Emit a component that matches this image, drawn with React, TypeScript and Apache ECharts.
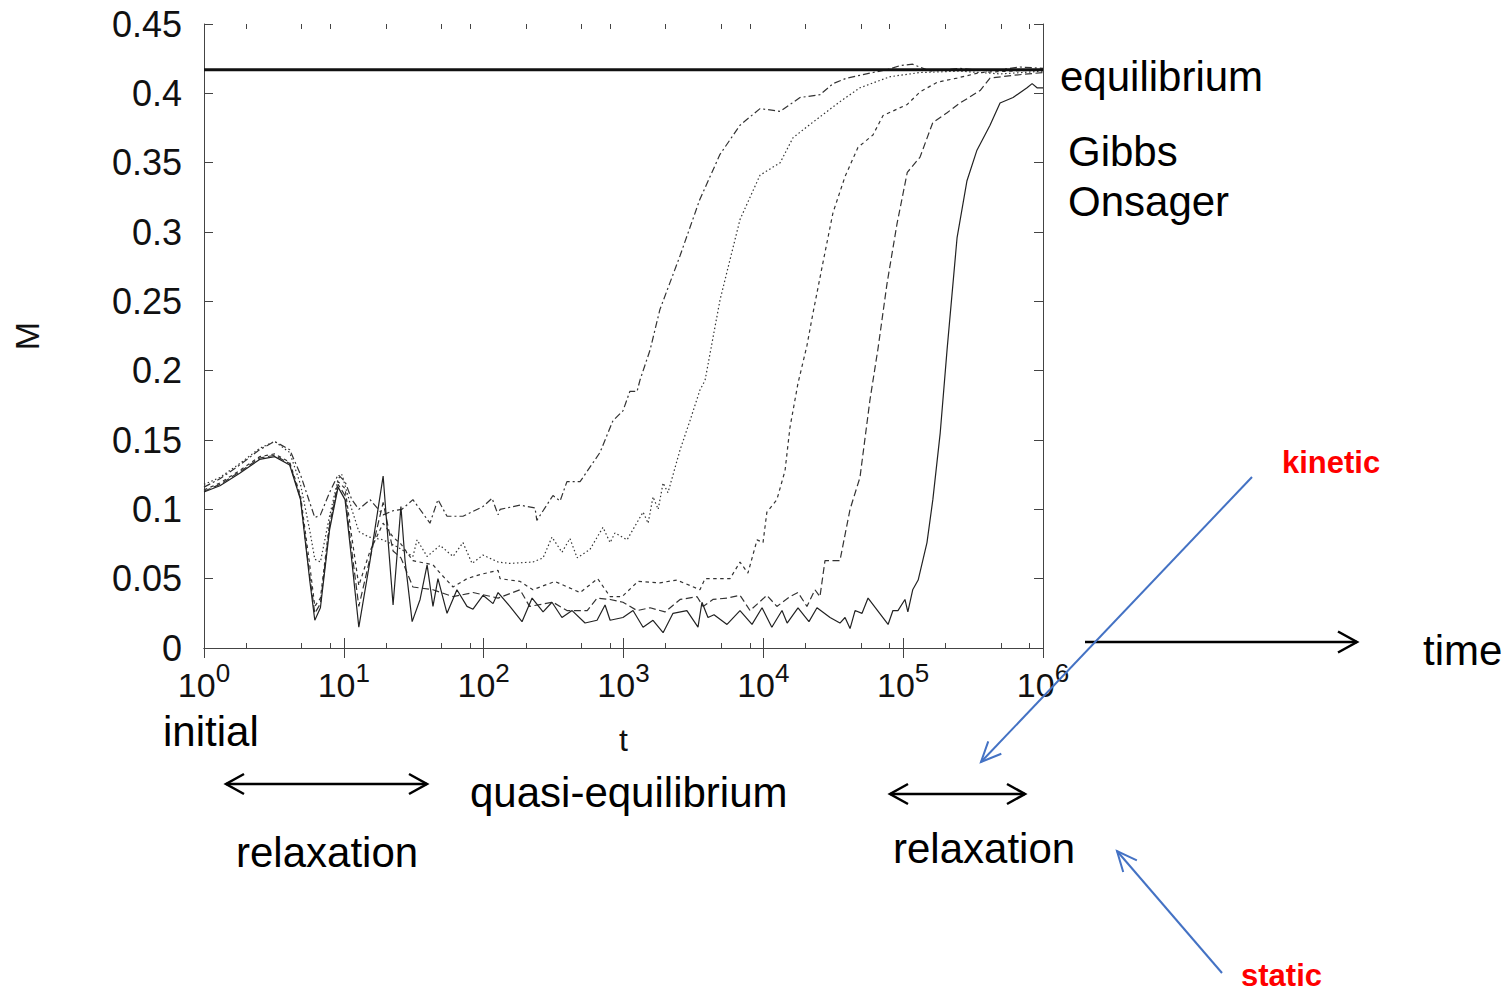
import React, { useEffect, useRef } from "react";
import * as echarts from "echarts";

// ---- data: t (log axis) and M for each curve ----
const tDashDot = [1, 1.3, 1.8, 2.5, 3.2, 4.1, 4.9, 5.7, 6.2, 6.8, 7.9, 9.1, 10.2, 11.4, 12.8, 15.4, 19.1, 22.5, 26, 31.2, 41.3, 47.1, 54.7, 71.1, 98.9, 114.8, 126.8, 131, 182, 233, 240, 313, 352, 394, 489, 513, 679, 841, 991, 1110, 1250, 1310, 1550, 1820, 2540, 3500, 4900, 6810, 9470, 13200, 18300, 25400, 31500, 39600, 60800, 76700, 95000, 117000, 156000, 255000, 418000, 685000, 1000000];
const mDashDot = [0.116, 0.122, 0.132, 0.143, 0.149, 0.143, 0.125, 0.105, 0.094, 0.096, 0.112, 0.125, 0.12, 0.107, 0.1, 0.107, 0.096, 0.099, 0.1, 0.107, 0.09, 0.107, 0.095, 0.095, 0.102, 0.108, 0.096, 0.1, 0.103, 0.101, 0.092, 0.11, 0.106, 0.12, 0.12, 0.123, 0.141, 0.164, 0.171, 0.185, 0.185, 0.193, 0.215, 0.244, 0.283, 0.323, 0.356, 0.377, 0.389, 0.387, 0.397, 0.399, 0.407, 0.411, 0.415, 0.417, 0.42, 0.421, 0.416, 0.418, 0.416, 0.419, 0.418];

const tDotted = [1, 1.3, 1.8, 2.5, 3.2, 4.1, 4.9, 5.7, 6.2, 6.8, 7.9, 9.1, 9.7, 11.4, 12.8, 15.1, 19.1, 24, 31.2, 33.4, 39.4, 48.8, 60.4, 71.1, 82.6, 98.9, 126.8, 154, 225, 266, 308, 363, 414, 466, 575, 713, 802, 869, 1060, 1380, 1500, 1626, 1770, 1919, 2080, 2540, 2990, 3520, 3830, 4900, 6810, 9470, 13200, 16300, 21200, 35300, 49100, 80600, 132000, 255000, 493000, 1000000];
const mDotted = [0.118, 0.123, 0.133, 0.144, 0.149, 0.141, 0.118, 0.085, 0.064, 0.062, 0.095, 0.122, 0.125, 0.1, 0.084, 0.08, 0.078, 0.073, 0.066, 0.078, 0.066, 0.074, 0.066, 0.076, 0.061, 0.067, 0.062, 0.061, 0.062, 0.065, 0.08, 0.069, 0.079, 0.065, 0.071, 0.087, 0.076, 0.083, 0.078, 0.098, 0.09, 0.109, 0.1, 0.119, 0.112, 0.143, 0.164, 0.186, 0.193, 0.251, 0.309, 0.341, 0.35, 0.368, 0.377, 0.394, 0.404, 0.412, 0.415, 0.416, 0.414, 0.416];

const tShortDash = [1, 1.3, 1.8, 2.5, 3.2, 4.1, 4.9, 5.7, 6.2, 6.8, 7.9, 9.1, 10.2, 11.4, 12.8, 15.4, 19.1, 22.5, 25.6, 31.2, 43.4, 48.8, 60.4, 76, 94.3, 126.8, 131, 182, 225, 323, 489, 654, 802, 976, 1270, 1820, 2410, 3520, 3830, 5780, 6810, 7760, 9020, 9950, 10600, 12500, 14300, 15500, 17700, 20500, 22600, 26700, 31500, 38400, 47500, 60800, 71800, 107000, 132000, 175000, 243000, 355000, 581000, 1000000];
const mShortDash = [0.114, 0.119, 0.128, 0.138, 0.14, 0.134, 0.11, 0.06, 0.03, 0.036, 0.09, 0.12, 0.115, 0.08, 0.045, 0.07, 0.09, 0.08, 0.075, 0.063, 0.06, 0.054, 0.044, 0.05, 0.053, 0.056, 0.05, 0.048, 0.042, 0.048, 0.04, 0.05, 0.037, 0.037, 0.048, 0.047, 0.049, 0.042, 0.05, 0.05, 0.062, 0.054, 0.078, 0.076, 0.098, 0.107, 0.128, 0.159, 0.191, 0.218, 0.241, 0.278, 0.314, 0.34, 0.361, 0.37, 0.384, 0.392, 0.401, 0.408, 0.411, 0.415, 0.416, 0.417];

const tLongDash = [1, 1.3, 1.8, 2.5, 3.2, 4.1, 4.9, 5.7, 6.2, 6.8, 7.9, 9.1, 10.2, 11.4, 12.8, 15.4, 19.1, 22.5, 25.6, 31.2, 43.4, 60.4, 83.9, 126.8, 182, 213, 313, 394, 550, 647, 802, 991, 1250, 1550, 1980, 2540, 3360, 3710, 4360, 5500, 6810, 8040, 10600, 12500, 15500, 17700, 20500, 23400, 25400, 27600, 35300, 41700, 49100, 57900, 66100, 76700, 90400, 107000, 132000, 163000, 206000, 255000, 355000, 418000, 611000, 1000000];
const mLongDash = [0.113, 0.118, 0.127, 0.137, 0.139, 0.133, 0.108, 0.052, 0.025, 0.032, 0.088, 0.118, 0.11, 0.07, 0.03, 0.065, 0.105, 0.07, 0.065, 0.044, 0.042, 0.037, 0.04, 0.036, 0.042, 0.03, 0.033, 0.027, 0.027, 0.036, 0.035, 0.033, 0.027, 0.029, 0.026, 0.035, 0.037, 0.03, 0.035, 0.036, 0.038, 0.027, 0.038, 0.03, 0.037, 0.04, 0.03, 0.042, 0.037, 0.063, 0.063, 0.1, 0.123, 0.179, 0.216, 0.263, 0.306, 0.343, 0.354, 0.379, 0.386, 0.393, 0.402, 0.411, 0.413, 0.415];

const tSolid = [1, 1.3, 1.8, 2.5, 3.2, 4.1, 4.9, 5.7, 6.2, 6.8, 7.9, 9.1, 10.2, 11.4, 12.8, 15.4, 19.1, 20.7, 22.5, 25.6, 27.4, 30.8, 35.1, 39.4, 43.4, 47.1, 54.7, 64.4, 76, 83.9, 98.9, 116.7, 126.8, 154, 188, 222, 266, 308, 363, 429, 531, 647, 738, 802, 991, 1170, 1380, 1626, 1919, 2260, 2840, 3410, 3640, 4020, 4440, 5500, 6810, 8300, 9790, 11500, 13600, 14800, 17700, 21200, 24200, 30000, 35300, 38400, 41700, 45300, 50800, 56100, 78000, 84500, 91800, 103000, 108000, 117000, 128000, 148000, 163000, 184000, 206000, 243000, 286000, 337000, 418000, 493000, 611000, 769000, 836000, 906000, 1000000];
const mSolid = [0.1125, 0.117, 0.126, 0.136, 0.138, 0.132, 0.107, 0.049, 0.02, 0.029, 0.085, 0.116, 0.107, 0.063, 0.015, 0.063, 0.124, 0.078, 0.031, 0.102, 0.063, 0.019, 0.035, 0.06, 0.03, 0.05, 0.025, 0.042, 0.03, 0.028, 0.038, 0.032, 0.04, 0.03, 0.019, 0.036, 0.026, 0.033, 0.022, 0.027, 0.018, 0.02, 0.031, 0.02, 0.022, 0.027, 0.015, 0.02, 0.011, 0.025, 0.027, 0.015, 0.033, 0.022, 0.024, 0.017, 0.027, 0.017, 0.029, 0.015, 0.027, 0.018, 0.029, 0.019, 0.029, 0.022, 0.018, 0.022, 0.014, 0.027, 0.025, 0.036, 0.017, 0.027, 0.027, 0.035, 0.026, 0.042, 0.049, 0.076, 0.107, 0.155, 0.215, 0.296, 0.337, 0.359, 0.377, 0.393, 0.397, 0.404, 0.407, 0.404, 0.404];

const tEquilibrium = [1, 1000000];
const mEquilibrium = [0.417, 0.417];

const majorTicks = [1, 10, 100, 1000, 10000, 100000, 1000000];
const minorMultipliers = [2, 5, 8];

const FONT = "'Liberation Sans', Arial, Helvetica, sans-serif";

function zip(t: number[], m: number[]) {
  return t.map((v, i) => [v, m[i]]);
}

function head(tx: number, ty: number, fx: number, fy: number, len: number, hw: number) {
  const dx = fx - tx, dy = fy - ty;
  const L = Math.hypot(dx, dy);
  const ux = dx / L, uy = dy / L;
  const bx = tx + ux * len, by = ty + uy * len;
  return [[bx - uy * hw, by + ux * hw], [tx, ty], [bx + uy * hw, by - ux * hw]];
}

export default function App() {
  const ref = useRef<HTMLDivElement>(null);
  useEffect(() => {
    if (!ref.current) return;
    const chart = echarts.init(ref.current, null, { renderer: "svg" });
    const minorTicks: number[] = [];
    majorTicks.slice(0, -1).forEach((d) => minorMultipliers.forEach((k) => minorTicks.push(d * k)));

    const axisCol = "#444";
    const logBase = { type: "log", logBase: 10, min: 1, max: 1000000, gridIndex: 0, splitLine: { show: false } } as any;

    const lineSeries = (name: string, t: number[], m: number[], type: any, width = 1.2, color = "#333") => ({
      name,
      type: "line",
      data: zip(t, m),
      showSymbol: false,
      symbol: "none",
      silent: true,
      xAxisIndex: 0,
      yAxisIndex: 0,
      lineStyle: { color, width, type },
    });

    const blue = "#4472C4";
    const txt = (text: string, x: number, y: number, size = 42, fill = "#000", weight = "normal") => ({
      type: "text",
      x,
      y,
      z: 10,
      style: { text, fill, fontSize: size, fontFamily: FONT, fontWeight: weight, verticalAlign: "middle", textVerticalAlign: "middle", align: "left" },
    });
    const seg = (x1: number, y1: number, x2: number, y2: number, stroke = "#000", w = 2.5) => ({
      type: "line",
      z: 10,
      shape: { x1, y1, x2, y2 },
      style: { stroke, lineWidth: w },
    });
    const poly = (points: number[][], stroke = "#000", w = 2.5) => ({
      type: "polyline",
      z: 10,
      shape: { points },
      style: { stroke, lineWidth: w, fill: null },
    });

    chart.setOption({
      animation: false,
      backgroundColor: "#fff",
      grid: { left: 204, top: 24, width: 839, height: 624, containLabel: false },
      xAxis: [
        {
          ...logBase,
          position: "bottom",
          axisLine: { show: true, lineStyle: { color: axisCol, width: 1 } },
          axisTick: { show: true, inside: true, length: 10, customValues: majorTicks, lineStyle: { color: axisCol } },
          axisLabel: {
            customValues: majorTicks,
            margin: 12,
            formatter: (v: number) => `{b|10}{s|${Math.round(Math.log10(v))}}`,
            rich: {
              b: { fontSize: 34, fontFamily: FONT, color: "#111", lineHeight: 42, verticalAlign: "bottom" },
              s: { fontSize: 26, fontFamily: FONT, color: "#111", lineHeight: 34, verticalAlign: "top" },
            },
          },
          name: "t",
          nameLocation: "middle",
          nameGap: 76,
          nameTextStyle: { fontSize: 32, fontFamily: FONT, color: "#111" },
        },
        {
          ...logBase,
          position: "top",
          axisLine: { show: true, lineStyle: { color: axisCol, width: 1 } },
          axisTick: { show: true, inside: true, length: 10, customValues: majorTicks, lineStyle: { color: axisCol } },
          axisLabel: { show: false },
        },
        {
          ...logBase,
          position: "bottom",
          axisLine: { show: false },
          axisTick: { show: true, inside: true, length: 5, customValues: minorTicks, lineStyle: { color: axisCol } },
          axisLabel: { show: false },
        },
        {
          ...logBase,
          position: "top",
          axisLine: { show: false },
          axisTick: { show: true, inside: true, length: 5, customValues: minorTicks, lineStyle: { color: axisCol } },
          axisLabel: { show: false },
        },
      ],
      yAxis: [
        {
          type: "value",
          min: 0,
          max: 0.45,
          interval: 0.05,
          position: "left",
          splitLine: { show: false },
          axisLine: { show: true, lineStyle: { color: axisCol, width: 1 } },
          axisTick: { show: true, inside: true, length: 9, lineStyle: { color: axisCol } },
          axisLabel: { fontSize: 36, fontFamily: FONT, color: "#111", margin: 22 },
          name: "M",
          nameLocation: "middle",
          nameRotate: 90,
          nameGap: 160,
          nameTextStyle: { fontSize: 34, fontFamily: FONT, color: "#111" },
        },
        {
          type: "value",
          min: 0,
          max: 0.45,
          interval: 0.05,
          position: "right",
          splitLine: { show: false },
          axisLine: { show: true, lineStyle: { color: axisCol, width: 1 } },
          axisTick: { show: true, inside: true, length: 9, lineStyle: { color: axisCol } },
          axisLabel: { show: false },
        },
      ],
      series: [
        lineSeries("dash-dot", tDashDot, mDashDot, [7, 3, 2, 3]),
        lineSeries("dotted", tDotted, mDotted, [1.5, 2.5]),
        lineSeries("short dash", tShortDash, mShortDash, [3.5, 3.5]),
        lineSeries("long dash", tLongDash, mLongDash, [7, 3.5]),
        lineSeries("solid", tSolid, mSolid, "solid", 1.2, "#222"),
        lineSeries("equilibrium", tEquilibrium, mEquilibrium, "solid", 3, "#111"),
      ],
      graphic: [
        txt("equilibrium", 1060, 76),
        txt("Gibbs", 1068, 151),
        txt("Onsager", 1068, 201),
        txt("time", 1423, 650),
        txt("initial", 163, 731),
        txt("quasi-equilibrium", 470, 792),
        txt("relaxation", 236, 852),
        txt("relaxation", 893, 848),
        txt("kinetic", 1282, 462, 31, "#ff0000", "bold"),
        txt("static", 1241, 975, 31, "#ff0000", "bold"),
        // double arrow (left relaxation)
        seg(226, 784, 427, 784),
        poly(head(226, 784, 427, 784, 18, 10)),
        poly(head(427, 784, 226, 784, 18, 10)),
        // double arrow (right relaxation)
        seg(890, 794, 1025, 794),
        poly(head(890, 794, 1025, 794, 18, 10)),
        poly(head(1025, 794, 890, 794, 18, 10)),
        // time arrow
        seg(1085, 642, 1357, 642),
        poly(head(1357, 642, 1085, 642, 19, 10.5)),
        // kinetic arrow
        seg(1252, 477, 981, 762, blue, 2),
        poly(head(981, 762, 1252, 477, 20, 9), blue, 2),
        // static arrow
        seg(1222, 973, 1117, 851, blue, 2),
        poly(head(1117, 851, 1222, 973, 20, 9), blue, 2),
      ],
    });
    return () => chart.dispose();
  }, []);
  return (
    <div
      ref={ref}
      style={{ position: "fixed", left: 0, top: 0, width: 1509, height: 991, background: "#fff" }}
    />
  );
}
